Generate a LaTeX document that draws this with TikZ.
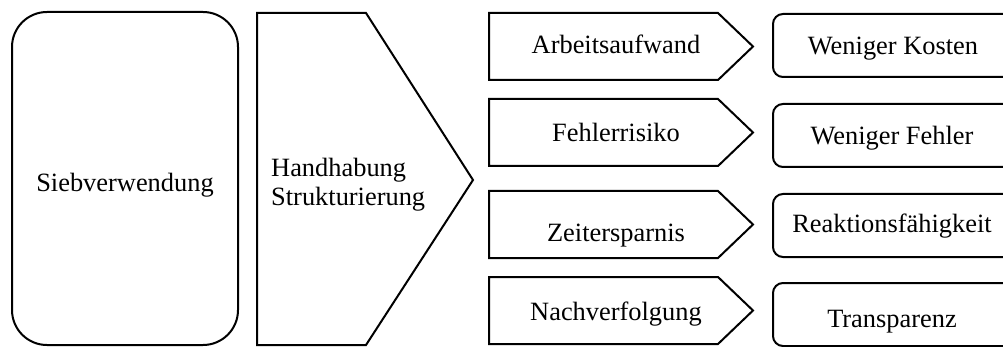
\documentclass[tikz,border=0pt]{standalone}
\usepackage{fontspec}
\setmainfont{Liberation Serif}
\begin{document}
\begin{tikzpicture}[x=1pt, y=-1pt,
  outline/.style={draw=black, line width=2pt, line join=miter},
  lbl/.style={font=\fontsize{26.4}{29}\selectfont, inner sep=0pt, anchor=base}]
\useasboundingbox (0,0) rectangle (1003,347);
\clip (0,0) rectangle (1003,347);

% source block
\draw[outline, rounded corners=35pt] (12,12) rectangle (238,345);
\node[lbl] (sieb) at (125,192) {Siebverwendung};

% large chevron
\draw[outline] (257,13) -- (366,13) -- (473,180) -- (366,345) -- (257,345) -- cycle;
\node[font=\fontsize{26.4}{29}\selectfont, inner sep=0pt, anchor=west, align=left]
  (hand) at (271,185) {Handhabung\\Strukturierung};

% arrow tags (top, bottom)
\foreach \t/\b in {13/80, 99/166, 191/258, 277/344}{
  \draw[outline] (489,\t) -- (718,\t) -- (753,{(\t+\b)/2}) -- (718,\b) -- (489,\b) -- cycle;
}
\node[lbl] (a1) at (616,54)  {Arbeitsaufwand};
\node[lbl] (a2) at (616,142) {Fehlerrisiko};
\node[lbl] (a3) at (616,242) {Zeitersparnis};
\node[lbl] (a4) at (616,320) {Nachverfolgung};

% result boxes
\foreach \t/\b in {14/77, 104/167, 194/257, 283/346}{
  \draw[outline, rounded corners=10pt] (773,\t) rectangle (1020,\b);
}
\node[lbl] (r1) at (893,55)  {Weniger Kosten};
\node[lbl] (r2) at (892,145) {Weniger Fehler};
\node[lbl] (r3) at (892,233) {Reaktionsfähigkeit};
\node[lbl] (r4) at (892,327) {Transparenz};
\end{tikzpicture}
\end{document}
